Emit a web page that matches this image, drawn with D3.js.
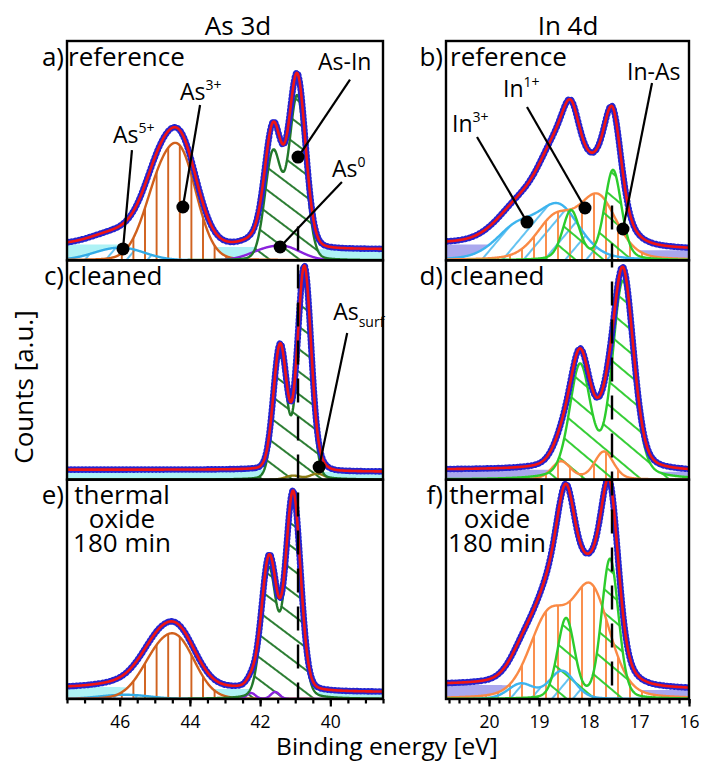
<!DOCTYPE html>
<html><head><meta charset="utf-8">
<script src="https://d3js.org/d3.v7.min.js"></script>
<style>
body{margin:0;background:#fff;}
svg{display:block;}
text{font-family:"Open Sans","DejaVu Sans",sans-serif;fill:#000;}
</style></head>
<body><svg id="chart" width="702" height="762"></svg>
<script>
// ================= DATA =================
const asDomain = [47.5, 38.5];      // binding energy (eV), As 3d column
const inDomain = [20.86, 16];       // binding energy (eV), In 4d column
const asTicks = [46, 44, 42, 40];
const inTicks = [20, 19, 18, 17, 16];
const asMinorStep = 0.5;
const inMinorStep = 0.2;
const countsDomain = [0, 220];      // counts (a.u.)
const columnTitles = ["As 3d", "In 4d"];
const panelLetters = ["a)", "b)", "c)", "d)", "e)", "f)"];
const rowLabels = [["reference"], ["cleaned"], ["thermal", "oxide", "180 min"]];
const axisTitleX = "Binding energy [eV]";
const axisTitleY = "Counts [a.u.]";

// Fitted peaks: [BE (eV), height (a.u.), FWHM (eV), Lorentz fraction]
// Backgrounds (Shirley): [level at high-BE end, level at low-BE end]
// a) As 3d reference
const a_bg   = [16, 11];
const a_As5  = [[45.75, 9, 1.4, 0.1], [46.44, 6, 1.4, 0.1]];
const a_As3  = [[44.22, 91, 1.1, 0.1], [44.91, 61, 1.1, 0.1]];
const a_As0  = [[41.25, 11.5, 1.1, 0.1], [41.94, 7.7, 1.1, 0.1]];
const a_AsIn = [[40.94, 163, 0.55, 0.1], [41.63, 107, 0.55, 0.1]];
// c) As 3d cleaned
const c_bg     = [10, 8];
const c_Assurf = [[40.37, 6, 0.5, 0.1], [41.06, 4, 0.5, 0.1]];
const c_AsIn   = [[40.74, 202, 0.45, 0.1], [41.43, 124, 0.45, 0.1]];
// e) As 3d thermal oxide 180 min
const e_bg   = [12, 7];
const e_As5  = [[45.6, 3, 1.4, 0.1], [46.29, 2, 1.4, 0.1]];
const e_As3  = [[44.29, 49, 1.2, 0.1], [44.98, 33, 1.2, 0.1]];
const e_As0  = [[41.57, 7, 0.3, 0.1], [42.26, 6, 0.3, 0.1]];
const e_AsIn = [[41.06, 198, 0.5, 0.15], [41.75, 128, 0.5, 0.15]];
// b) In 4d reference
const b_bg   = [16, 10];
const b_In3  = [[18.6, 52, 1.0, 0.3], [19.46, 30, 1.0, 0.3]];
const b_In1  = [[17.82, 62, 0.9, 0.3], [18.68, 40, 0.9, 0.3]];
const b_InAs = [[17.52, 90, 0.4, 0.3], [18.36, 49, 0.4, 0.3]];
// d) In 4d cleaned
const d_bg   = [10, 8];
const d_In1  = [[17.7, 28, 0.45, 0.3], [18.56, 18, 0.45, 0.3]];
const d_InAs = [[17.32, 197, 0.5, 0.3], [18.18, 112, 0.5, 0.3]];
// f) In 4d thermal oxide 180 min
const f_bg   = [14, 9];
const f_In3  = [[18.54, 28, 0.6, 0.2], [19.36, 15, 0.6, 0.2]];
const f_In1  = [[17.96, 107, 0.9, 0.25], [18.82, 78, 0.9, 0.25]];
const f_InAs = [[17.58, 140, 0.4, 0.2], [18.46, 80, 0.4, 0.2]];

// Reference binding-energy markers (dashed lines): [BE, start counts in top panel]
const markerAs = [40.92, 34];
const markerIn = [17.54, 55];

// Callouts: [panel, text, script, kind, labelBE, labelCounts, lineBE, lineCounts, dotBE, dotCounts]
const callouts = [
  ["a", "As", "5+", "sup", 46.19, 117.7, 45.65, 110.6, 45.905, 11.4],
  ["a", "As", "3+", "sup", 44.28, 160.8, 43.71, 155.8, 44.20, 53.5],
  ["a", "As-In", "", "", 40.35, 191.2, 39.44, 181.2, 40.92, 103.6],
  ["a", "As", "0", "sup", 39.95, 83.6, 39.67, 78.6, 41.43, 13.4],
  ["c", "As", "surf", "sub", 39.92, 160.1, 39.52, 147.1, 40.32, 12.7],
  ["b", "In", "3+", "sup", 20.74, 128.7, 20.24, 123.7, 19.24, 38.4],
  ["b", "In", "1+", "sup", 19.72, 163.8, 19.24, 153.8, 18.08, 52.5],
  ["b", "In-As", "", "", 17.24, 180.9, 16.74, 177.9, 17.32, 31.4]
];

// ================= LAYOUT / STYLE =================
const colRange = [[67, 383], [446, 689]];
const top0 = 41, rowH = 658 / 3;
const colTitleX = [238, 568];
const blockCenter = [55, 51];
const panels = [
  {id: "a", col: 0, row: 0, bg: a_bg, comps: [["As5+", a_As5], ["As3+", a_As3], ["As0", a_As0], ["As-In", a_AsIn]]},
  {id: "b", col: 1, row: 0, bg: b_bg, comps: [["In3+", b_In3], ["In1+", b_In1], ["In-As", b_InAs]]},
  {id: "c", col: 0, row: 1, bg: c_bg, comps: [["Assurf", c_Assurf], ["As-In", c_AsIn]]},
  {id: "d", col: 1, row: 1, bg: d_bg, comps: [["In1+", d_In1], ["In-As", d_InAs]]},
  {id: "e", col: 0, row: 2, bg: e_bg, comps: [["As5+", e_As5], ["As3+", e_As3], ["As0", e_As0], ["As-In", e_AsIn]]},
  {id: "f", col: 1, row: 2, bg: f_bg, comps: [["In3+", f_In3], ["In1+", f_In1], ["In-As", f_InAs]]}
];
const compStyle = {
  "As5+": {c: "#32abe6", h: "hBlue"},
  "In3+": {c: "#3db4ee", h: "hBlue"},
  "As3+": {c: "#d0601c", h: "hOrL"},
  "In1+": {c: "#fa8a45", h: "hOrR"},
  "As-In": {c: "#22782a", h: "hGrL"},
  "In-As": {c: "#2ccc2c", h: "hGrR"},
  "As0": {c: "#8a22dc", h: null},
  "Assurf": {c: "#8c7c14", h: null}
};
const bgFill = ["#aef2f5", "#aaa8ee"];

const svg = d3.select("#chart");
const defs = svg.append("defs");
function hatch(id, color, spacing, angle, width) {
  const p = defs.append("pattern").attr("id", id).attr("patternUnits", "userSpaceOnUse")
    .attr("width", spacing).attr("height", spacing)
    .attr("patternTransform", `rotate(${angle})`);
  p.append("line").attr("x1", spacing / 2).attr("x2", spacing / 2)
    .attr("y1", -1).attr("y2", spacing + 1)
    .attr("stroke", color).attr("stroke-width", width);
}
hatch("hOrL", "#d0601c", 11.6, 0, 1.9);
hatch("hOrR", "#fa8a45", 12, 0, 1.9);
hatch("hGrL", "#22782a", 18, -53, 1.9);
hatch("hGrR", "#2ccc2c", 18, -50, 1.9);
hatch("hBlue", "#3db4ee", 16, 40, 1.6);

const LN = 4 * Math.LN2;
function pv(E, p) {
  const d = (E - p[0]) / p[2];
  return p[1] * ((1 - p[3]) * Math.exp(-LN * d * d) + p[3] / (1 + 4 * d * d));
}

const scales = {};
panels.forEach(P => {
  const dom = P.col === 0 ? asDomain : inDomain;
  const x = d3.scaleLinear().domain(dom).range(colRange[P.col]);
  const top = top0 + P.row * rowH, bottom = top + rowH;
  const y = d3.scaleLinear().domain(countsDomain).range([bottom, top]);
  scales[P.id] = {x, y, top, bottom};
  const lo = Math.min(...dom), hi = Math.max(...dom);
  const step = 0.01;
  const Es = d3.range(lo, hi + step / 2, step);
  const compVals = P.comps.map(([n, peaks]) => Es.map(E => d3.sum(peaks, p => pv(E, p))));
  const total = Es.map((E, i) => d3.sum(compVals, v => v[i]));
  const cum = [0];
  for (let i = 1; i < Es.length; i++) cum[i] = cum[i - 1] + (total[i] + total[i - 1]) / 2 * step;
  const cT = cum[cum.length - 1];
  const bgv = Es.map((E, i) => P.bg[1] + (P.bg[0] - P.bg[1]) * cum[i] / cT);
  const env = Es.map((E, i) => bgv[i] + total[i]);

  const clipId = "clip" + P.id;
  defs.append("clipPath").attr("id", clipId).append("rect")
    .attr("x", colRange[P.col][0]).attr("y", top)
    .attr("width", colRange[P.col][1] - colRange[P.col][0]).attr("height", rowH);
  const g = svg.append("g").attr("clip-path", `url(#${clipId})`);

  const area = d3.area().x((d, i) => x(Es[i])).y0(y(0)).y1(d => y(d));
  const line = d3.line().x((d, i) => x(Es[i])).y(d => y(d));

  g.append("path").attr("d", area(bgv)).attr("fill", bgFill[P.col]);
  compVals.forEach(v => g.append("path").attr("d", area(v)).attr("fill", "#fff"));
  compVals.forEach((v, k) => {
    const s = compStyle[P.comps[k][0]];
    if (s.h) g.append("path").attr("d", area(v)).attr("fill", `url(#${s.h})`);
  });
  compVals.forEach((v, k) => {
    const s = compStyle[P.comps[k][0]];
    g.append("path").attr("d", line(v)).attr("fill", "none")
      .attr("stroke", s.c).attr("stroke-width", 2.4).attr("stroke-linejoin", "round");
  });
  // measured data (blue dots) and fit envelope (red)
  g.append("path").attr("d", line(env)).attr("fill", "none")
    .attr("stroke", "#2a2ad8").attr("stroke-width", 4.4);
  g.append("path").attr("d", line(env)).attr("fill", "none")
    .attr("stroke", "#2424d0").attr("stroke-width", 6.6)
    .attr("stroke-linecap", "round").attr("stroke-dasharray", "0.1 3.6");
  g.append("path").attr("d", line(env)).attr("fill", "none")
    .attr("stroke", "#f01414").attr("stroke-width", 2.6);
});

// dashed marker lines
[[markerAs, "a", "e"], [markerIn, "b", "f"]].forEach(([m, t, b]) => {
  const st = scales[t], sb = scales[b];
  svg.append("line")
    .attr("x1", st.x(m[0])).attr("x2", st.x(m[0]))
    .attr("y1", st.y(m[1])).attr("y2", sb.bottom)
    .attr("stroke", "#000").attr("stroke-width", 2.4)
    .attr("stroke-dasharray", "24 14");
});

// frames
panels.forEach(P => {
  const s = scales[P.id];
  svg.append("rect").attr("x", colRange[P.col][0]).attr("y", s.top)
    .attr("width", colRange[P.col][1] - colRange[P.col][0]).attr("height", rowH)
    .attr("fill", "none").attr("stroke", "#000").attr("stroke-width", 2.4);
});

// bottom axes
[["e", asTicks, asMinorStep, asDomain], ["f", inTicks, inMinorStep, inDomain]].forEach(([id, ticks, ms, dom]) => {
  const s = scales[id];
  const lo = Math.min(...dom), hi = Math.max(...dom);
  const minor = d3.range(Math.ceil(lo / ms - 1e-6) * ms, hi + 1e-6, ms).map(v => +v.toFixed(2));
  const gMin = svg.append("g").attr("transform", `translate(0,${s.bottom})`)
    .call(d3.axisBottom(s.x).tickValues(minor).tickSize(4.5).tickFormat(""));
  const gMaj = svg.append("g").attr("transform", `translate(0,${s.bottom})`)
    .call(d3.axisBottom(s.x).tickValues(ticks).tickSize(7.5).tickPadding(9).tickFormat(d3.format("d")));
  [gMin, gMaj].forEach(gg => {
    gg.select(".domain").remove();
    gg.selectAll(".tick line").attr("stroke", "#000").attr("stroke-width", 2.2);
  });
  gMaj.selectAll(".tick text").attr("font-size", 17.5).attr("font-family", '"Open Sans",sans-serif').attr("fill", "#000");
});

// column titles
columnTitles.forEach((t, i) => {
  svg.append("text").attr("x", colTitleX[i]).attr("y", 35).attr("text-anchor", "middle")
    .attr("font-size", 26).text(t);
});

// panel labels
panels.forEach(P => {
  const s = scales[P.id];
  const left = colRange[P.col][0];
  const base = s.top + 24.5;
  const idx = P.row * 2 + P.col;
  svg.append("text").attr("x", left - 3).attr("y", base).attr("text-anchor", "end")
    .attr("font-size", 26).text(panelLetters[idx]);
  const lines = rowLabels[P.row];
  if (lines.length === 1) {
    svg.append("text").attr("x", left + (P.col ? 4 : 1)).attr("y", base)
      .attr("font-size", 26).text(lines[0]);
  } else {
    const t = svg.append("text").attr("y", base).attr("text-anchor", "middle").attr("font-size", 26);
    lines.forEach((l, k) => {
      t.append("tspan").attr("x", left + blockCenter[P.col]).attr("dy", k === 0 ? 0 : 24).text(l);
    });
  }
});

// callouts
callouts.forEach(c => {
  const s = scales[c[0]];
  svg.append("line").attr("x1", s.x(c[6])).attr("y1", s.y(c[7]))
    .attr("x2", s.x(c[8])).attr("y2", s.y(c[9]))
    .attr("stroke", "#000").attr("stroke-width", 2.2);
  svg.append("circle").attr("cx", s.x(c[8])).attr("cy", s.y(c[9])).attr("r", 6.5).attr("fill", "#000");
  const t = svg.append("text").attr("x", s.x(c[4])).attr("y", s.y(c[5])).attr("font-size", 23);
  t.append("tspan").text(c[1]);
  if (c[2]) {
    t.append("tspan").attr("font-size", 14)
      .attr("dy", c[3] === "sup" ? -10 : 7).text(c[2]);
  }
});

// axis titles
svg.append("text").attr("x", 387).attr("y", 755).attr("text-anchor", "middle")
  .attr("font-size", 24.5).text(axisTitleX);
svg.append("text").attr("transform", "translate(33,387) rotate(-90)")
  .attr("text-anchor", "middle").attr("font-size", 26).text(axisTitleY);
</script>
</body></html>
